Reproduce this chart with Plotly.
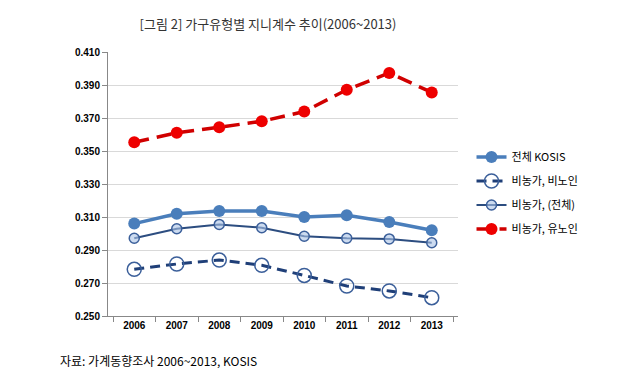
import plotly.graph_objects as go

years = ["2006", "2007", "2008", "2009", "2010", "2011", "2012", "2013"]
kosis_total = [0.306, 0.312, 0.3136, 0.3136, 0.310, 0.311, 0.307, 0.302]
nonfarm_nonelderly = [0.2783, 0.2815, 0.2839, 0.2807, 0.2746, 0.2682, 0.2652, 0.2611]
nonfarm_all = [0.2971, 0.3029, 0.3055, 0.3035, 0.2983, 0.2971, 0.2967, 0.2944]
nonfarm_elderly = [0.3553, 0.361, 0.3644, 0.368, 0.3739, 0.3871, 0.3973, 0.3855]
y_ticks = [0.250, 0.270, 0.290, 0.310, 0.330, 0.350, 0.370, 0.390, 0.410]

fig = go.Figure()
fig.add_trace(go.Scatter(
    x=years, y=kosis_total, name="전체 KOSIS", mode="lines+markers",
    line=dict(color="#4a7ebb", width=3.5),
    marker=dict(symbol="circle", size=12, color="#4a7ebb"),
    legendgroup="a"))
fig.add_trace(go.Scatter(
    x=years, y=nonfarm_nonelderly, name="비농가, 비노인", mode="lines+markers",
    line=dict(color="#1f3f78", width=3, dash="10px,6px"),
    marker=dict(symbol="circle-open", size=14, color="#3b5f9a", line=dict(width=1.5)),
    legendgroup="b"))
fig.add_trace(go.Scatter(
    x=years, y=nonfarm_all, name="비농가, (전체)", mode="lines+markers",
    line=dict(color="#2c4d80", width=2),
    marker=dict(symbol="circle", size=10, color="rgba(170,195,230,0.6)",
                line=dict(color="#3b5f9a", width=1.5)),
    legendgroup="c"))
fig.add_trace(go.Scatter(
    x=years, y=nonfarm_elderly, name="비농가, 유노인", mode="lines+markers",
    line=dict(color="#d00000", width=3.5, dash="15px,8px"),
    marker=dict(symbol="circle", size=12, color="#ee0000"),
    legendgroup="d"))

fig.update_layout(
    width=640, height=388,
    margin=dict(l=100, r=190, t=44, b=80),
    paper_bgcolor="white", plot_bgcolor="white",
    font=dict(family="Noto Sans CJK KR, Arial", color="#000"),
    title=dict(text="[그림 2] 가구유형별 지니계수 추이(2006~2013)",
               x=260/640, xanchor="center", y=1 - 16/388, yanchor="middle",
               font=dict(size=13, color="#333", family="Noto Sans CJK KR")),
    legend=dict(x=1.0386, xanchor="left", y=0.466, yanchor="middle",
                font=dict(size=11, color="#000"), tracegroupgap=5,
                bgcolor="rgba(0,0,0,0)"),
    showlegend=True,
)
fig.update_xaxes(
    type="category", showgrid=False, showline=True, linecolor="#888", linewidth=1,
    ticks="outside", ticklen=5, tickcolor="#888", tickson="boundaries",
    tickfont=dict(family="Arial", size=10, color="#000", weight="bold"),
)
fig.update_yaxes(
    range=[0.250, 0.410], tickvals=y_ticks, tickformat=".3f",
    showgrid=True, gridcolor="#d9d9d9", gridwidth=1,
    showline=True, linecolor="#888", linewidth=1,
    ticks="outside", ticklen=5, tickcolor="#888", zeroline=False,
    tickfont=dict(family="Arial", size=10, color="#000", weight="bold"),
)
fig.add_annotation(
    text="자료: 가계동향조사 2006~2013, KOSIS", xref="paper", yref="paper",
    x=(50 - 100) / 350, y=-(352 - 308) / 264, xanchor="left", yanchor="middle",
    showarrow=False, font=dict(size=12, color="#000", family="Noto Sans CJK KR"))

fig.write_html("out.html")
